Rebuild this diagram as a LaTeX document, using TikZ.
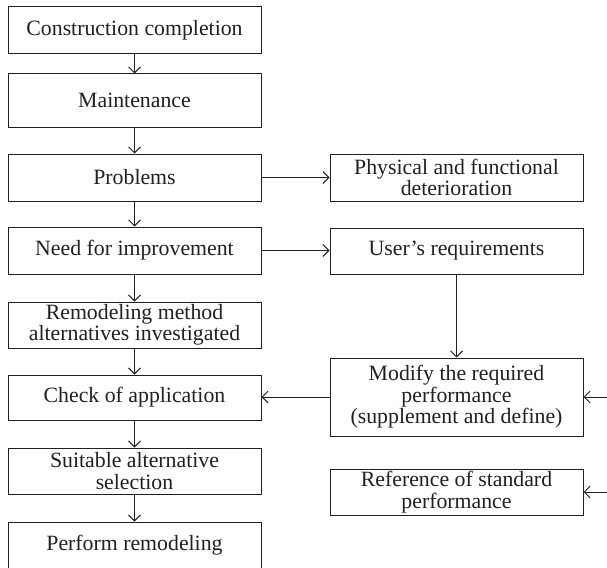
\documentclass[tikz,border=0pt]{standalone}
\usepackage{fontspec}
\setmainfont{Liberation Serif}
\usetikzlibrary{arrows.meta}
\definecolor{ink}{HTML}{231F20}
\begin{document}
\begin{tikzpicture}[x=1pt,y=-1pt,
  box/.style={draw=ink,line width=1pt,rectangle,minimum width=253pt,inner sep=0pt,align=center,text=ink,font=\fontsize{21.8}{21.5}\selectfont},
  conn/.style={draw=ink,line width=0.9pt,-{Straight Barb[length=6pt,width=12pt,line width=0.9pt]}}]
\useasboundingbox (0,0) rectangle (607,567);
\node[box,minimum height=47pt] (cc) at (134.5,30.5) {Construction completion};
\node[box,minimum height=53pt] (mt) at (134.5,100.5) {Maintenance};
\node[box,minimum height=47pt] (pb) at (134.5,177.5) {Problems};
\node[box,minimum height=47pt] (nf) at (134.5,250.5) {Need for improvement};
\node[box,minimum height=46pt] (rm) at (134.5,325) {Remodeling method\\alternatives investigated};
\node[box,minimum height=45pt] (ck) at (134.5,397.5) {Check of application};
\node[box,minimum height=46pt] (sa) at (134.5,471) {Suitable alternative\\selection};
\node[box,minimum height=46pt] (pr) at (134.5,545) {Perform remodeling};
\node[box,minimum height=47pt] (ph) at (456.5,177.5) {Physical and functional\\deterioration};
\node[box,minimum height=46pt] (us) at (456.5,251) {User’s requirements};
\node[box,minimum height=78pt] (md) at (456.5,397) {Modify the required\\performance\\(supplement and define)};
\node[box,minimum height=46pt] (rf) at (456.5,492) {Reference of standard\\performance};
\coordinate (in1) at (607,397);
\coordinate (in2) at (607,492);
\draw[conn] (cc) -- (mt);
\draw[conn] (mt) -- (pb);
\draw[conn] (pb) -- (nf);
\draw[conn] (nf) -- (rm);
\draw[conn] (rm) -- (ck);
\draw[conn] (ck) -- (sa);
\draw[conn] (sa) -- (pr);
\draw[conn] (pb) -- (ph);
\draw[conn] (nf.east) -- (nf.east -| us.west);
\draw[conn] (us) -- (md);
\draw[conn] (md.west) -- (md.west -| ck.east);
\draw[conn] (in1) -- (md.east);
\draw[conn] (in2) -- (rf.east);
\end{tikzpicture}
\end{document}
